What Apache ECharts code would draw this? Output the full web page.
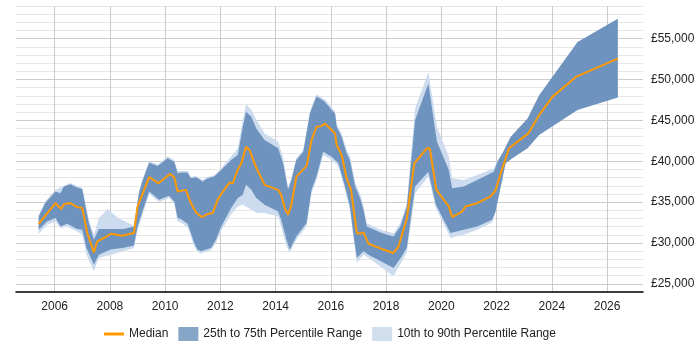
<!DOCTYPE html>
<html>
<head>
<meta charset="utf-8">
<script src="https://cdn.jsdelivr.net/npm/echarts@6/dist/echarts.min.js"></script>
<style>
  html, body { margin: 0; padding: 0; background: #fff; }
  #chart { width: 700px; height: 350px; }
</style>
</head>
<body>
<div id="chart"></div>
<script>
// year ticks shown on the x axis
const yearTicks = [2006, 2008, 2010, 2012, 2014, 2016, 2018, 2020, 2022, 2024, 2026]

// median salary, [year, value]
const median = [
  [2005.42, 32350], [2006.03, 34880], [2006.23, 34150], [2006.33, 34750], [2006.57, 34880],
  [2006.81, 34390], [2007.0, 34270], [2007.18, 31220], [2007.42, 28850], [2007.54, 30200],
  [2007.84, 30700], [2008.03, 31130], [2008.45, 30890], [2008.87, 31220], [2009.0, 34460],
  [2009.42, 38050], [2009.76, 37320], [2010.17, 38450], [2010.33, 38050], [2010.45, 36290],
  [2010.75, 36500], [2010.93, 34880], [2011.12, 33730], [2011.32, 33170], [2011.54, 33540],
  [2011.72, 33660], [2011.9, 35280], [2012.09, 36290], [2012.33, 37390], [2012.45, 37320],
  [2012.63, 39020], [2012.75, 39670], [2012.93, 41780], [2013.05, 41380], [2013.3, 39200],
  [2013.6, 37110], [2014.09, 36500], [2014.2, 35890], [2014.33, 34270], [2014.45, 33450],
  [2014.57, 34670], [2014.75, 38120], [2015.12, 39430], [2015.3, 42600], [2015.48, 44220],
  [2015.66, 44300], [2015.78, 44630], [2016.03, 43820], [2016.15, 43410], [2016.21, 41990],
  [2016.39, 40770], [2016.57, 37930], [2016.73, 36500], [2016.94, 31220], [2017.06, 31130],
  [2017.18, 31290], [2017.36, 29910], [2017.84, 29270], [2018.27, 28780], [2018.45, 29590],
  [2018.75, 33000], [2019.02, 39750], [2019.48, 41590], [2019.58, 41590], [2019.82, 36500],
  [2020.27, 34460], [2020.39, 33170], [2020.75, 33850], [2020.87, 34460], [2021.3, 34880],
  [2021.78, 35690], [2021.96, 36420], [2022.15, 38540], [2022.45, 41590], [2023.15, 43410],
  [2023.54, 45650], [2024.02, 47880], [2024.87, 50320], [2026.39, 52560]
]

// 75th percentile
const p75 = [
  [2005.42, 33240], [2005.66, 34880], [2006.03, 36290], [2006.21, 36100], [2006.33, 36900],
  [2006.57, 37200], [2006.81, 36780], [2007.0, 36590], [2007.12, 34460], [2007.24, 32440],
  [2007.42, 30400], [2007.6, 31700], [2008.0, 31700], [2008.5, 31700], [2008.87, 32020],
  [2009.05, 36100], [2009.17, 37510], [2009.42, 39830], [2009.73, 39430], [2010.09, 40370],
  [2010.33, 39950], [2010.45, 38540], [2010.57, 38610], [2010.81, 38610], [2010.93, 37930],
  [2011.12, 38050], [2011.36, 37510], [2011.54, 37930], [2011.78, 38120], [2012.09, 39150],
  [2012.39, 40160], [2012.63, 40770], [2012.81, 44220], [2012.93, 46050], [2013.12, 45440],
  [2013.3, 44020], [2013.6, 42600], [2014.09, 41590], [2014.27, 39750], [2014.45, 36500],
  [2014.57, 37720], [2014.75, 40160], [2015.0, 41170], [2015.24, 45850], [2015.48, 47960],
  [2015.78, 47270], [2016.03, 46260], [2016.15, 45850], [2016.21, 44220], [2016.39, 43000],
  [2016.57, 40980], [2016.69, 40160], [2016.88, 36900], [2017.06, 35490], [2017.18, 34060],
  [2017.3, 32020], [2017.84, 31220], [2018.27, 30800], [2018.51, 32020], [2018.75, 34460],
  [2019.05, 45040], [2019.53, 49510], [2019.84, 42390], [2020.27, 38940], [2020.39, 36710],
  [2020.81, 36900], [2021.3, 37720], [2021.9, 38730], [2022.03, 39950], [2022.21, 40980],
  [2022.51, 43000], [2023.12, 45240], [2023.54, 48080], [2024.93, 54590], [2026.39, 57440]
]

// 25th percentile
const p25 = [
  [2005.42, 31620], [2005.72, 32630], [2006.03, 33050], [2006.21, 32020], [2006.45, 32350],
  [2006.81, 31710], [2007.0, 31620], [2007.15, 29390], [2007.42, 27350], [2007.6, 28570],
  [2008.03, 29200], [2008.5, 29400], [2008.87, 29700], [2009.0, 32020], [2009.42, 36290],
  [2009.78, 35280], [2010.14, 35770], [2010.33, 35070], [2010.45, 33050], [2010.57, 32930],
  [2010.81, 32350], [2010.93, 31220], [2011.05, 30000], [2011.17, 29180], [2011.3, 28980],
  [2011.66, 29390], [2011.84, 30400], [2012.03, 32020], [2012.39, 34270], [2012.63, 35490],
  [2012.81, 35890], [2012.93, 37110], [2013.12, 36500], [2013.3, 35500], [2013.6, 34670],
  [2014.09, 33850], [2014.2, 32840], [2014.39, 30400], [2014.51, 29180], [2014.75, 30800],
  [2015.12, 32440], [2015.3, 36500], [2015.48, 38120], [2015.72, 41170], [2016.03, 40560],
  [2016.27, 39750], [2016.51, 36900], [2016.69, 34460], [2016.81, 31220], [2016.94, 28170],
  [2017.18, 28980], [2017.36, 28570], [2018.27, 26950], [2018.57, 28370], [2018.75, 29400],
  [2019.05, 36900], [2019.53, 38730], [2019.8, 34670], [2020.33, 31220], [2020.81, 31620],
  [2021.3, 32020], [2021.84, 32840], [2021.96, 33850], [2022.15, 36900], [2022.33, 39750],
  [2022.57, 40370], [2023.12, 41590], [2023.54, 43210], [2024.93, 46260], [2026.39, 47800]
]

// 90th percentile
const p90 = [
  [2005.42, 33400], [2005.66, 35100], [2006.03, 36500], [2006.57, 37350], [2007.0, 36700],
  [2007.12, 34700], [2007.24, 32800], [2007.42, 31000], [2007.6, 33050], [2007.92, 34150],
  [2008.3, 33050], [2008.87, 32110], [2009.05, 36300], [2009.17, 37700], [2009.42, 40000],
  [2009.73, 39600], [2010.09, 40600], [2010.33, 40150], [2010.45, 38800], [2010.81, 38800],
  [2010.93, 38100], [2011.12, 38200], [2011.36, 37700], [2011.54, 38100], [2011.78, 38300],
  [2012.09, 39400], [2012.39, 40600], [2012.63, 41600], [2012.81, 45000], [2012.93, 46990],
  [2013.12, 46300], [2013.3, 45120], [2013.6, 43410], [2014.09, 42390], [2014.27, 40560],
  [2014.45, 36800], [2014.57, 38000], [2014.75, 40400], [2015.0, 41400], [2015.24, 46100],
  [2015.48, 48200], [2015.78, 47600], [2016.03, 46600], [2016.15, 46100], [2016.21, 44600],
  [2016.39, 43400], [2016.57, 41400], [2016.69, 40600], [2016.88, 37400], [2017.06, 36000],
  [2017.18, 34500], [2017.3, 32400], [2017.84, 31600], [2018.27, 31200], [2018.51, 32400],
  [2018.75, 34900], [2019.05, 46500], [2019.53, 50930], [2019.84, 44220], [2020.27, 40560],
  [2020.39, 37930], [2020.81, 37720], [2021.3, 38330], [2021.9, 39150], [2022.03, 40100],
  [2022.21, 40980]
]

// 10th percentile
const p10 = [
  [2005.42, 31100], [2005.72, 32230], [2006.03, 32630], [2006.21, 31830], [2006.45, 32000],
  [2006.81, 31410], [2007.0, 31010], [2007.15, 28570], [2007.42, 26540], [2007.6, 28170],
  [2008.03, 28570], [2008.87, 29390], [2009.0, 31500], [2009.42, 36000], [2009.78, 35000],
  [2010.14, 35500], [2010.33, 34800], [2010.45, 32600], [2010.57, 32500], [2010.81, 31900],
  [2010.93, 30800], [2011.05, 29600], [2011.17, 28900], [2011.3, 28700], [2011.66, 29100],
  [2011.84, 30000], [2012.03, 31500], [2012.39, 33500], [2012.63, 34460], [2012.81, 34670],
  [2013.12, 34060], [2013.3, 33700], [2013.6, 33660], [2014.09, 33250], [2014.2, 32020],
  [2014.39, 29590], [2014.51, 28850], [2014.75, 30400], [2015.12, 32020], [2015.3, 36100],
  [2015.48, 37720], [2015.72, 40770], [2016.03, 40160], [2016.27, 39400], [2016.51, 36500],
  [2016.69, 34000], [2016.81, 30800], [2016.94, 27560], [2017.18, 28570], [2017.36, 28200],
  [2018.27, 25930], [2018.57, 27760], [2018.75, 28800], [2019.05, 36100], [2019.53, 38120],
  [2019.8, 34270], [2020.33, 30610], [2020.81, 31010], [2021.3, 31620], [2021.84, 32510],
  [2021.96, 33700], [2022.15, 36900], [2022.21, 37600]
]

const FONT = '"Liberation Sans", Arial, sans-serif'

// band between two edges, drawn as one polygon through the axis scales
const band = (name, upper, lower, color, z) => ({
  name,
  type: 'custom',
  z,
  clip: true,
  silent: true,
  itemStyle: { color },
  data: [upper[0]],
  renderItem: (params, api) => {
    const pts = upper.map(p => api.coord(p))
      .concat(lower.slice().reverse().map(p => api.coord(p)))
    return { type: 'polygon', shape: { points: pts }, style: { fill: color } }
  }
})

const chart = echarts.init(document.getElementById('chart'))

chart.setOption({
  animation: false,
  backgroundColor: '#fff',
  textStyle: { fontFamily: FONT },
  grid: { left: 16, right: 57, top: 6, bottom: 58 },
  legend: {
    left: 99,
    top: 322,
    itemWidth: 20,
    itemHeight: 14,
    itemGap: 10,
    textStyle: { fontFamily: FONT, fontSize: 12, color: '#222' },
    data: [
      { name: 'Median', icon: 'path://M0,0H20V3H0Z' },
      { name: '25th to 75th Percentile Range', icon: 'rect', itemStyle: { color: '#87a5c7' } },
      { name: '10th to 90th Percentile Range', icon: 'rect', itemStyle: { color: '#d0deee' } }
    ]
  },
  xAxis: {
    type: 'value',
    min: 2004.6,
    max: 2027.3,
    axisLine: { lineStyle: { color: '#000', width: 1.5 } },
    axisTick: { show: false, customValues: yearTicks },
    axisLabel: {
      customValues: yearTicks,
      color: '#222',
      fontSize: 12,
      fontFamily: FONT,
      margin: 9,
      formatter: v => String(v)
    },
    splitLine: { show: true, lineStyle: { color: '#cccccc', width: 1 } }
  },
  yAxis: {
    type: 'value',
    position: 'right',
    min: 24000,
    max: 59000,
    interval: 1000,
    axisLine: { show: false },
    axisTick: { show: false },
    axisLabel: {
      interval: 0,
      color: '#222',
      fontSize: 12,
      fontFamily: FONT,
      margin: 8,
      formatter: v => (v % 5000 === 0 ? '£' + v.toLocaleString('en-GB') : '')
    },
    splitLine: {
      lineStyle: { color: ['#e6e6e6', '#cccccc', '#e6e6e6', '#e6e6e6', '#e6e6e6'], width: 1 }
    }
  },
  series: [
    band('10th to 90th Percentile Range', p90, p10, '#ccdcee', 1),
    band('25th to 75th Percentile Range', p75, p25, '#6f93bf', 2),
    {
      name: 'Median',
      type: 'line',
      z: 3,
      data: median,
      symbol: 'none',
      itemStyle: { color: '#ff9900' },
      lineStyle: { color: '#ff9900', width: 2 }
    }
  ]
})
</script>
</body>
</html>
